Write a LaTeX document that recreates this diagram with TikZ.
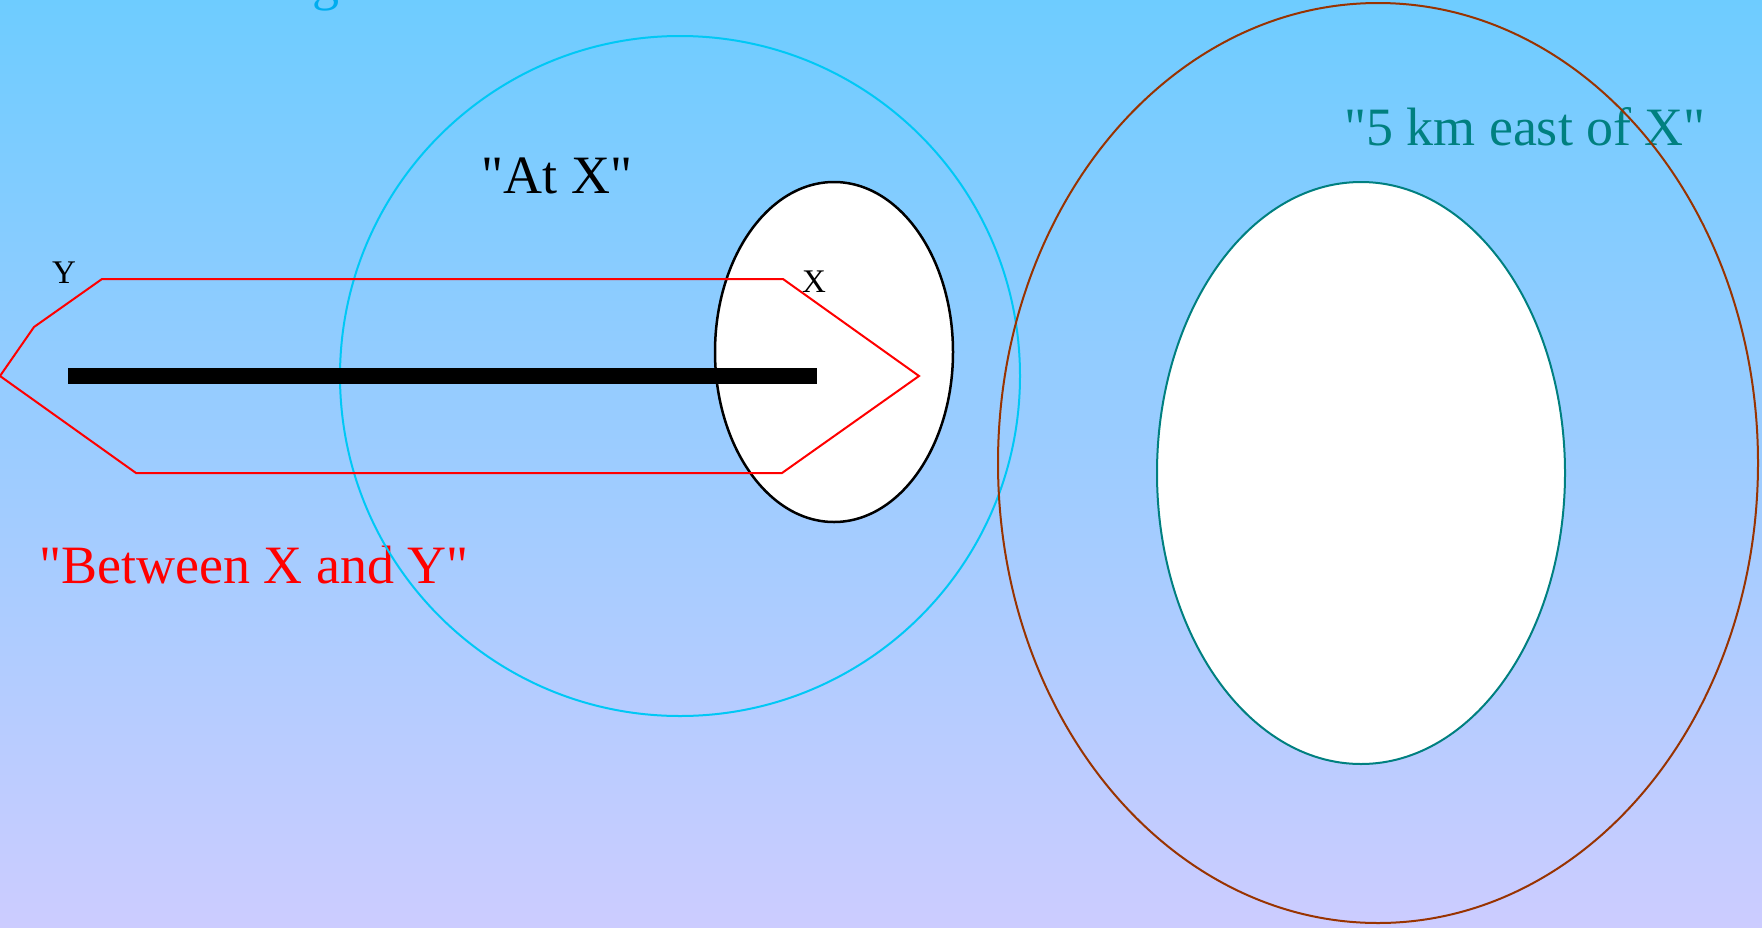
\documentclass[tikz,border=0pt]{standalone}
\usepackage{fontspec}
\setmainfont{Liberation Serif}[Ligatures=TeXOff]
\usepackage{xcolor}
\usetikzlibrary{shapes.geometric,positioning}

\definecolor{skytop}{RGB}{110,204,255}
\definecolor{skybottom}{RGB}{204,204,255}
\definecolor{atxline}{RGB}{0,200,245}
\definecolor{eastline}{RGB}{153,51,0}
\definecolor{teal5}{RGB}{0,128,128}

\begin{document}
\begin{tikzpicture}[
  x=1pt, y=-1pt,
  region/.style={ellipse, inner sep=0pt, line width=2pt},
  caption/.style={font=\fontsize{54}{60}\selectfont, inner sep=0pt, anchor=base},
  ptlbl/.style={font=\fontsize{33}{36}\selectfont, inner sep=0pt, anchor=base},
  bar/.style={line width=16pt, draw=black},
  zone/.style={draw=red, line width=2pt, line join=miter},
]
\shade[top color=skytop, bottom color=skybottom] (0,0) rectangle (1762,927);
\useasboundingbox (0,0) rectangle (1762,927);

% title, cut off at the top edge
\begin{scope}
  \clip (0,0) rectangle (1762,927);
  \node[caption, anchor=base west, text=cyan] (title) at (210,-1) {Things known};
\end{scope}

% captions
\node[caption] (atxlbl) at (557,193) {"At X"};
\node[caption, text=red] (betweenlbl) at (254,583) {"Between X and Y"};
\node[caption, text=teal5] (eastlbl) at (1525,145) {"5 km east of X"};

% regions
\node[region, draw=atxline, minimum width=680, minimum height=680] (atx) at (680,376) {};
\node[region, draw=eastline, minimum width=760, minimum height=920] (eastouter) at (1378,463) {};
\node[region, draw=teal5, fill=white, minimum width=408, minimum height=582] (eastinner) at (1361,473) {};
\node[region, draw=black, fill=white, line width=2.5pt, minimum width=238, minimum height=340] (xplace) at (834,352) {};

% the road from Y to X
\coordinate (roadY) at (68,376);
\coordinate (roadX) at (817,376);
\draw[bar] (roadY) -- (roadX);

% the zone between X and Y
\draw[zone] (102,279) -- (783,279) -- (919,376) -- (782,473) -- (136,473)
  -- (0,376) -- (34,327) -- cycle;

\node[ptlbl] (ylbl) at (64,283) {Y};
\node[ptlbl] (xlbl) at (814,292) {X};
\end{tikzpicture}
\end{document}
